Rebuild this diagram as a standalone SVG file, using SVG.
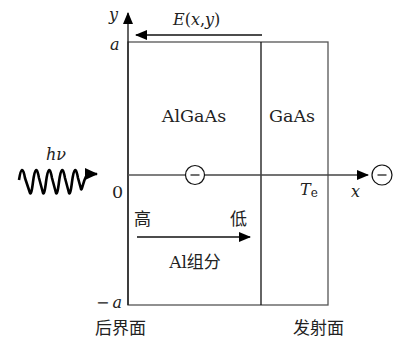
<svg xmlns="http://www.w3.org/2000/svg" width="395" height="339" viewBox="0 0 395 339">
<defs>
<style>
.t{font-family:"DejaVu Serif",serif;font-size:17.5px;fill:#222}
.m{font-family:"DejaVu Serif",serif;font-style:italic;font-size:16px;fill:#222}
.c{font-family:"Noto Sans CJK SC",sans-serif;font-size:17px;fill:#222}
.box{fill:none;stroke:#555;stroke-width:1.3}
.ln{stroke:#111;stroke-width:1.3;fill:none}
</style>
<marker id="ah" markerWidth="12" markerHeight="10" refX="11" refY="5" orient="auto" markerUnits="userSpaceOnUse">
<path d="M0,0 L12,5 L0,10 Z" fill="#000"/>
</marker>
<marker id="ahb" markerWidth="13" markerHeight="12" refX="12" refY="6" orient="auto" markerUnits="userSpaceOnUse">
<path d="M0,0 L13,6 L0,12 Z" fill="#000"/>
</marker>
</defs>
<rect width="395" height="339" fill="#fff"/>
<g id="box">
<rect class="box" x="128" y="42" width="200" height="263"/>
<line class="ln" x1="261" y1="42" x2="261" y2="305"/>
</g>
<g id="connectors">
<line class="ln" x1="128" y1="305" x2="128" y2="13" marker-end="url(#ah)"/>
<line x1="128" y1="175" x2="186" y2="175" stroke="#555" stroke-width="1.3"/>
<line x1="204" y1="175" x2="368" y2="175" stroke="#444" stroke-width="1.3" marker-end="url(#ah)"/>
<line class="ln" x1="262" y1="35" x2="136" y2="35" marker-end="url(#ah)"/>
<line class="ln" x1="137" y1="237" x2="250" y2="237" marker-end="url(#ah)"/>
<path d="M19,180 C21,167 23,167 25,178 L30,193 C31,195 32,190 33,182 C35,167 37,167 39,178 L43,193 C44,195 45,190 46,182 C48,167 50,167 52,178 L56,193 C57,195 58,190 59,182 C61,167 63,167 65,178 L69,193 C70,195 71,190 72,182 C74,167 76,167 78,178 L81,189 C82,192 84,176 88,174 L97,174" fill="none" stroke="#000" stroke-width="2.6" stroke-linejoin="round" marker-end="url(#ahb)"/>
</g>
<g id="labels">
<text class="m" x="109" y="20">y</text>
<text class="m" x="110" y="50">a</text>
<text class="m" x="96" y="308" font-size="15">−<tspan dx="3">a</tspan></text>
<text class="t" x="112" y="198" font-size="15">0</text>
<text class="m" x="173" y="25" font-size="17">E<tspan font-style="normal">(</tspan>x<tspan font-style="normal">,</tspan>y<tspan font-style="normal">)</tspan></text>
<text class="t" x="194" y="122" text-anchor="middle">AlGaAs</text>
<text class="t" x="292" y="122" text-anchor="middle">GaAs</text>
<text class="m" x="300" y="195">T<tspan font-style="normal" font-size="12" dy="2">e</tspan></text>
<text class="m" x="351" y="197">x</text>
<text class="m" x="46" y="160">hν</text>
<text class="c" x="134" y="225">高</text>
<text class="c" x="230" y="225">低</text>
<text class="c" x="195" y="268" text-anchor="middle"><tspan font-family="'DejaVu Serif',serif" font-size="17">Al</tspan>组分</text>
<text class="c" x="95" y="334" font-size="16.5">后界面</text>
<text class="c" x="293" y="334" font-size="16.5">发射面</text>
</g>
<g id="electron1">
<circle cx="195" cy="175" r="9.5" fill="#fff" stroke="#111" stroke-width="1.2"/>
<line x1="190.5" y1="175" x2="199.5" y2="175" stroke="#111" stroke-width="1.2"/>
</g>
<g id="electron2">
<circle cx="382" cy="175" r="10" fill="#fff" stroke="#111" stroke-width="1.2"/>
<line x1="377.5" y1="175" x2="386.5" y2="175" stroke="#111" stroke-width="1.2"/>
</g>
</svg>
